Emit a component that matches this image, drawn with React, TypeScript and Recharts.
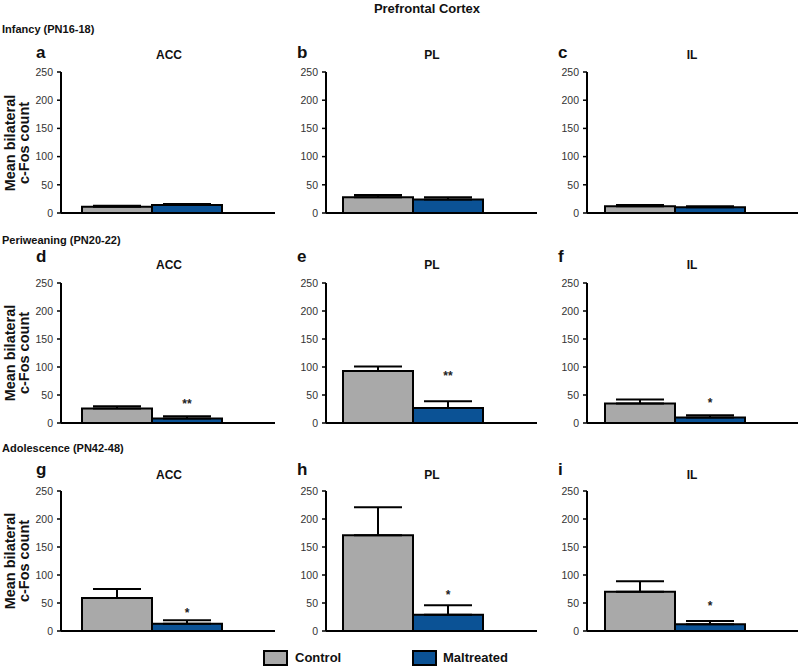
import { BarChart, Bar, XAxis, YAxis, ErrorBar, LabelList } from 'recharts'

const ageGroups = ['Infancy (PN16-18)', 'Periweaning (PN20-22)', 'Adolescence (PN42-48)']
const regions = ['ACC', 'PL', 'IL']
const panelLetters = ['a', 'b', 'c', 'd', 'e', 'f', 'g', 'h', 'i']
const yTicks = [0, 50, 100, 150, 200, 250]

// rows = age groups, columns = regions
const controlMean = [
  [11, 28, 12],
  [26, 93, 35],
  [59, 171, 70],
]
const controlSem = [
  [2, 4, 2],
  [4, 8, 7],
  [16, 50, 19],
]
const maltreatedMean = [
  [14, 24, 10],
  [8, 27, 10],
  [13, 29, 12],
]
const maltreatedSem = [
  [2, 4, 2],
  [4, 12, 4],
  [6, 17, 6],
]
const significance = [
  ['', '', ''],
  ['**', '**', '*'],
  ['*', '*', '*'],
]
// where the asterisks sit, in y units
const starLevel = [
  [0, 0, 0],
  [37, 87, 39],
  [36, 68, 48],
]

const font = '"Liberation Sans", Arial, Helvetica, sans-serif'
const GREY = '#a9a9a9'
const BLUE = '#0b5295'

const colAxisX = [61, 326, 587]
const colEndX = [275, 537, 798]
const colBarX = [82, 343, 605]
const rowTop = [72, 283, 491]
const rowZero = [213, 423, 631]

const Y_W = 50
const M_TOP = 10
const X_H = 10
const BAND = 140

function Panel({ r, c }: { r: number; c: number }) {
  const data = [
    {
      name: regions[c],
      control: controlMean[r][c],
      controlErr: [0, controlSem[r][c]],
      maltreated: maltreatedMean[r][c],
      maltreatedErr: [0, maltreatedSem[r][c]],
      sig: significance[r][c],
    },
  ]
  const plotW = colEndX[c] - colAxisX[c]
  const plotH = rowZero[r] - rowTop[r]
  const padLeft = colBarX[c] - colAxisX[c]
  const padRight = plotW - padLeft - BAND

  const renderStar = (props: any) => {
    const { value } = props
    if (!value) return null
    const x = Number(props.x)
    const y = Number(props.y)
    const w = Number(props.width)
    const h = Number(props.height)
    const unit = h / maltreatedMean[r][c]
    const cy = y + h - starLevel[r][c] * unit
    return (
      <text
        x={x + w / 2}
        y={cy + 6}
        textAnchor="middle"
        fontSize={12}
        fontWeight="bold"
        fontFamily={font}
        fill="#222"
      >
        {value}
      </text>
    )
  }

  return (
    <div
      style={{
        position: 'absolute',
        left: colAxisX[c] - Y_W,
        top: rowTop[r] - M_TOP,
      }}
    >
      <BarChart
        width={Y_W + plotW}
        height={M_TOP + plotH + X_H}
        data={data}
        margin={{ top: M_TOP, right: 0, bottom: 0, left: 0 }}
        barGap={0}
        barCategoryGap={0}
      >
        <XAxis
          dataKey="name"
          height={X_H}
          tick={false}
          tickLine={false}
          axisLine={{ stroke: '#000', strokeWidth: 2 }}
          padding={{ left: padLeft, right: padRight }}
        />
        <YAxis
          width={Y_W}
          domain={[0, 250]}
          ticks={yTicks}
          interval={0}
          tickSize={4}
          tickMargin={4}
          tick={{ fontSize: 10.5, fill: '#333', fontFamily: font }}
          tickLine={{ stroke: '#000', strokeWidth: 1.5 }}
          axisLine={{ stroke: '#000', strokeWidth: 2 }}
        />
        <Bar
          dataKey="control"
          fill={GREY}
          stroke="#000"
          strokeWidth={2}
          isAnimationActive={false}
        >
          <ErrorBar dataKey="controlErr" width={24} stroke="#000" strokeWidth={2} direction="y" />
        </Bar>
        <Bar
          dataKey="maltreated"
          fill={BLUE}
          stroke="#000"
          strokeWidth={2}
          isAnimationActive={false}
        >
          <ErrorBar dataKey="maltreatedErr" width={24} stroke="#000" strokeWidth={2} direction="y" />
          <LabelList dataKey="sig" content={renderStar} />
        </Bar>
      </BarChart>
    </div>
  )
}

const textBase: React.CSSProperties = {
  position: 'absolute',
  fontFamily: font,
  fontWeight: 'bold',
  color: '#111',
  whiteSpace: 'nowrap',
  lineHeight: 1,
}

export default function App() {
  const rowLabelY = [30, 241, 449]
  const letterY = [53, 257, 470]
  const titleY = [55, 265, 475]
  const letterX = [36, 297, 558]
  const titleX = [169, 432, 692]

  return (
    <div
      style={{
        position: 'absolute',
        left: 0,
        top: 0,
        width: 799,
        height: 668,
        background: '#fff',
        overflow: 'hidden',
        fontFamily: font,
      }}
    >
      <div style={{ ...textBase, left: 0, width: 854, top: 2, fontSize: 13, textAlign: 'center' }}>
        Prefrontal Cortex
      </div>

      {ageGroups.map((g, r) => (
        <div key={g}>
          <div style={{ ...textBase, left: 2, top: rowLabelY[r] - 6, fontSize: 11 }}>{g}</div>
          <div
            style={{
              ...textBase,
              left: 17 - 80,
              top: (rowTop[r] + rowZero[r]) / 2 - 14,
              width: 160,
              height: 28,
              fontSize: 14.5,
              lineHeight: '14px',
              textAlign: 'center',
              transform: 'rotate(-90deg)',
            }}
          >
            Mean bilateral
            <br />
            c-Fos count
          </div>
          {regions.map((reg, c) => (
            <div key={reg}>
              <div style={{ ...textBase, left: letterX[c], top: letterY[r] - 9, fontSize: 17 }}>
                {panelLetters[r * 3 + c]}
              </div>
              <div
                style={{
                  ...textBase,
                  left: titleX[c] - 40,
                  width: 80,
                  textAlign: 'center',
                  top: titleY[r] - 6,
                  fontSize: 12,
                }}
              >
                {reg}
              </div>
              <Panel r={r} c={c} />
            </div>
          ))}
        </div>
      ))}

      {/* legend */}
      <div
        style={{
          position: 'absolute',
          left: 263,
          top: 650,
          width: 21,
          height: 12,
          background: GREY,
          border: '2px solid #000',
        }}
      />
      <div style={{ ...textBase, left: 295, top: 651, fontSize: 13 }}>Control</div>
      <div
        style={{
          position: 'absolute',
          left: 412,
          top: 650,
          width: 21,
          height: 12,
          background: BLUE,
          border: '2px solid #000',
        }}
      />
      <div style={{ ...textBase, left: 443, top: 651, fontSize: 13 }}>Maltreated</div>
    </div>
  )
}
